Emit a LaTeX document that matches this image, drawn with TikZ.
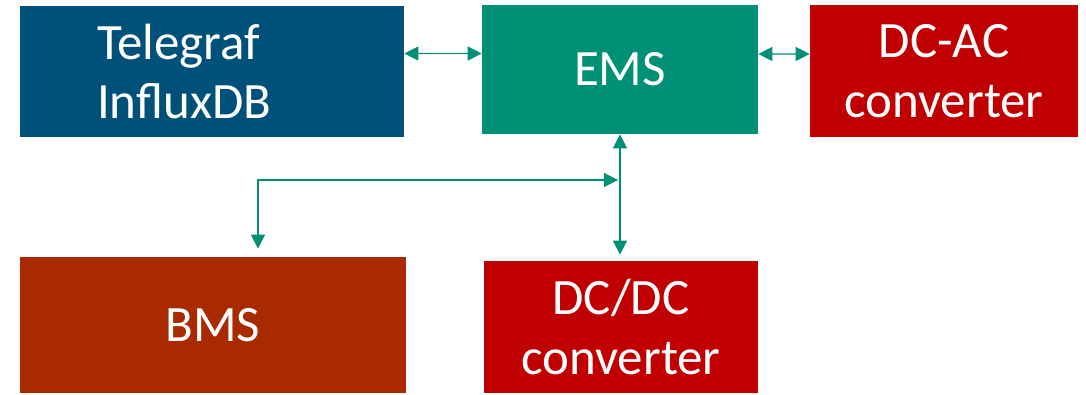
\documentclass[tikz,border=0pt]{standalone}
\usepackage{fontspec}
\setmainfont{Carlito}
\usetikzlibrary{arrows.meta, positioning}
\definecolor{teleblue}{RGB}{0,81,122}
\definecolor{emsgreen}{RGB}{0,144,117}
\definecolor{bmsbrown}{RGB}{170,42,0}
\definecolor{convred}{RGB}{192,0,0}
\tikzset{
  Block/.style = {
    fill = #1,
    text = white,
    align = center,
    inner sep = 0pt,
    font = \fontsize{29}{34}\selectfont,
  },
  Link/.style = {
    draw = emsgreen,
    line width = 0.6pt,
    {Triangle[length = 8pt, width = 8pt]}-{Triangle[length = 8pt, width = 8pt]},
  }
}

\begin{document}
\begin{tikzpicture}[x=0.02cm, y=0.02cm]
      \useasboundingbox[fill=white] (0,0) rectangle (1086,395);
      \node[Block=teleblue, inner xsep=1.54cm, text width=4.6cm, align=left, minimum height=2.62cm] (tele) at (212,323.5) {Telegraf\\InfluxDB};
      \node[Block=emsgreen, minimum width=5.52cm, minimum height=2.58cm] (ems) at (620,325.5) {EMS};
      \node[Block=convred, minimum width=5.36cm, minimum height=2.64cm] (dcac) at (944,324) {DC-AC\\converter};
      \node[Block=bmsbrown, minimum width=7.72cm, minimum height=2.72cm] (bms) at (213,70) {BMS};
      \node[Block=convred, minimum width=5.48cm, minimum height=2.64cm] (dcdc) at (621,68) {DC/DC\\converter};
      \coordinate (junction) at (ems.south |- 0,215);
      \draw[Link] ([yshift=0.36cm]tele.east) -- ([yshift=0.32cm]ems.west);
      \draw[Link] ([yshift=0.31cm]ems.east) -- ([yshift=0.34cm]dcac.west);
      \draw[Link] (ems.south) -- ([yshift=0.12cm]ems.south |- dcdc.north);
      \draw[Link] ([xshift=-0.04cm]junction) -| ([xshift=0.9cm, yshift=0.16cm]bms.north);
    \end{tikzpicture}
\end{document}
